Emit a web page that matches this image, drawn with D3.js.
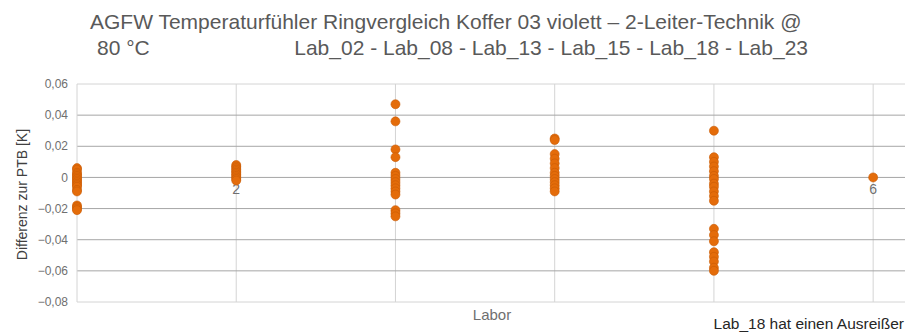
<!DOCTYPE html>
<html>
<head>
<meta charset="utf-8">
<script src="https://cdn.jsdelivr.net/npm/d3@7"></script>
<style>
  body { margin: 0; background: #fff; }
  svg { display: block; font-family: "Liberation Sans", Arial, sans-serif; }
</style>
</head>
<body>
<div id="chart"></div>
<script>
// Differenz zur PTB [K] per Labor (readings)
const lab1 = [0.006, 0.005, 0.003, 0.002, 0.001, 0, -0.001, -0.002, -0.003, -0.004, -0.005, -0.006, -0.008, -0.009, -0.018, -0.019, -0.02, -0.021];
const lab2 = [0.008, 0.007, 0.006, 0.005, 0.004, 0.003, 0.002, 0.001, 0, -0.001, -0.002];
const lab3 = [0.047, 0.036, 0.018, 0.013, 0.003, 0.001, -0.001, -0.003, -0.005, -0.007, -0.009, -0.011, -0.021, -0.023, -0.025];
const lab4 = [0.025, 0.024, 0.015, 0.012, 0.009, 0.006, 0.003, 0.001, -0.001, -0.003, -0.005, -0.007, -0.009];
const lab5 = [0.030, 0.013, 0.010, 0.007, 0.004, 0.001, -0.001, -0.004, -0.006, -0.009, -0.012, -0.015, -0.033, -0.037, -0.041, -0.048, -0.051, -0.054, -0.058, -0.060];
const lab6 = [0];
const labs = [lab1, lab2, lab3, lab4, lab5, lab6];

const xTicks = [1, 2, 3, 4, 5, 6];
const yTicks = [0.06, 0.04, 0.02, 0, -0.02, -0.04, -0.06, -0.08];

const titleLine1 = "AGFW Temperaturfühler Ringvergleich Koffer 03 violett – 2-Leiter-Technik @";
const titleLine2a = "80 °C";
const titleLine2b = "Lab_02 - Lab_08 - Lab_13 - Lab_15 - Lab_18 - Lab_23";

const W = 918, H = 334;
const margin = {top: 84, right: 13, bottom: 32, left: 77};
const width = W - margin.left - margin.right,
    height = H - margin.top - margin.bottom;

const svg = d3.select("#chart").append("svg")
    .attr("width", W).attr("height", H);
const g = svg.append("g")
    .attr("transform", "translate(" + margin.left + "," + margin.top + ")");

const x = d3.scaleLinear().domain([1, 6.2]).range([0, width]);
const y = d3.scaleLinear().domain([-0.08, 0.06]).range([height, 0]);

// gridlines
g.append("g").selectAll("line")
    .data(xTicks.slice(1))
    .enter().append("line")
    .attr("x1", d => x(d)).attr("x2", d => x(d))
    .attr("y1", 0).attr("y2", height)
    .attr("stroke", "#d4d4d4");
g.append("g").selectAll("line")
    .data(yTicks)
    .enter().append("line")
    .attr("x1", 0).attr("x2", width)
    .attr("y1", d => y(d)).attr("y2", d => y(d))
    .attr("stroke", (d, i) => (i === 0 || i === yTicks.length - 1) ? "#d4d4d4" : "#a6a6a6");
// left edge
g.append("line")
    .attr("x1", 0).attr("x2", 0).attr("y1", 0).attr("y2", height)
    .attr("stroke", "#d4d4d4");

// y axis labels
const fmt = v => d3.format(".2f")(v).replace(".", ",");
g.append("g").selectAll("text")
    .data(yTicks)
    .enter().append("text")
    .attr("x", -9).attr("y", d => y(d))
    .attr("dy", "0.35em")
    .attr("text-anchor", "end")
    .attr("font-size", 12)
    .attr("fill", "#6f6f6f")
    .text(d => d === 0 ? "0" : fmt(d));

// x axis labels, sitting under the zero line
g.append("g").selectAll("text")
    .data(xTicks)
    .enter().append("text")
    .attr("x", d => x(d)).attr("y", y(0) + 17)
    .attr("text-anchor", "middle")
    .attr("font-size", 14)
    .attr("fill", "#6f6f6f")
    .text(d => d);

// points
const points = labs.flatMap((vals, i) => vals.map(v => ({lab: xTicks[i], v})));
g.append("g").selectAll("circle")
    .data(points)
    .enter().append("circle")
    .attr("cx", d => x(d.lab))
    .attr("cy", d => y(d.v))
    .attr("r", 4.5)
    .attr("fill", "#E46C0A")
    .attr("stroke", "#c85a05")
    .attr("stroke-width", 0.6);

// axis titles
svg.append("text")
    .attr("transform", "translate(27," + (margin.top + y(-0.011)) + ") rotate(-90)")
    .attr("text-anchor", "middle")
    .attr("font-size", 14)
    .attr("fill", "#404040")
    .text("Differenz zur  PTB [K]");
svg.append("text")
    .attr("x", 492).attr("y", 320)
    .attr("text-anchor", "middle")
    .attr("font-size", 15)
    .attr("fill", "#6f6f6f")
    .text("Labor");
svg.append("text")
    .attr("x", 904).attr("y", 329)
    .attr("text-anchor", "end")
    .attr("font-size", 15.5)
    .attr("fill", "#262626")
    .text("Lab_18 hat einen Ausreißer");

// title
svg.append("text")
    .attr("x", 90).attr("y", 29)
    .attr("font-size", 21)
    .attr("fill", "#595959")
    .text(titleLine1);
svg.append("text")
    .attr("x", 97).attr("y", 55)
    .attr("font-size", 21)
    .attr("fill", "#595959")
    .text(titleLine2a);
svg.append("text")
    .attr("x", 808).attr("y", 55)
    .attr("text-anchor", "end")
    .attr("font-size", 21)
    .attr("fill", "#595959")
    .text(titleLine2b);
</script>
</body>
</html>
